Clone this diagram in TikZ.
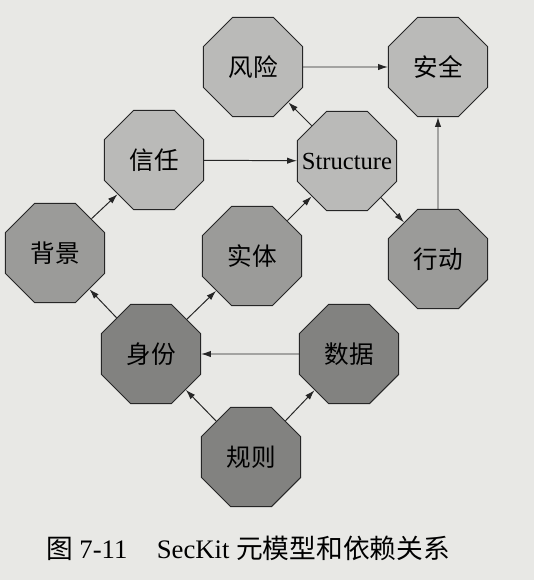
\documentclass[tikz,border=0pt]{standalone}
\usepackage{fontspec}
\setmainfont{Liberation Serif}
\newfontfamily\cjk{Noto Sans CJK SC}
\usetikzlibrary{%
  arrows.meta,%
  shapes.geometric%
}
\definecolor{paper}{RGB}{232,232,229}
\definecolor{octlight}{RGB}{186,186,184}
\definecolor{octmid}{RGB}{155,155,153}
\definecolor{octdark}{RGB}{130,130,128}
\tikzset{>={Latex[length=7pt,width=4.5pt]},%
  oct/.style={regular polygon,regular polygon sides=8,minimum size=2.68cm,
    inner sep=0pt,draw=black!85,line width=0.7pt,
    font=\fontsize{17.5}{17.5}\selectfont},
  dep/.style={->,line width=0.7pt,black!85}}

\begin{document}
\begin{tikzpicture}[x=0.025cm,y=-0.025cm]
    \fill[paper] (0,0) rectangle (534,580);
    \useasboundingbox (0,0) rectangle (534,580);
    % upper row
    \node[oct,fill=octlight] (risk) at (253,67) {\cjk 风险};
    \node[oct,fill=octlight] (safe) at (438,67) {\cjk 安全};
    \node[oct,fill=octlight] (trust) at (154,160) {\cjk 信任};
    \node[oct,fill=octlight] (struct) at (347,161) {\makebox[0pt]{Structure}};
    % middle row
    \node[oct,fill=octmid] (bg) at (55,253) {\cjk 背景};
    \node[oct,fill=octmid] (entity) at (252,256) {\cjk 实体};
    \node[oct,fill=octmid] (act) at (438,259) {\cjk 行动};
    % lower rows
    \node[oct,fill=octdark] (ident) at (151,354) {\cjk 身份};
    \node[oct,fill=octdark] (data) at (349,354) {\cjk 数据};
    \node[oct,fill=octdark] (rule) at (251,457) {\cjk 规则};
    \draw[dep] (risk) -- (safe);
    \draw[dep] (trust) -- (struct);
    \draw[dep] (struct) -- (risk);
    \draw[dep] (struct) -- (act);
    \draw[dep] (act) -- (safe);
    \draw[dep] (bg) -- (trust);
    \draw[dep] (entity) -- (struct);
    \draw[dep] (ident) -- (bg);
    \draw[dep] (ident) -- (entity);
    \draw[dep] (data) -- (ident);
    \draw[dep] (rule) -- (ident);
    \draw[dep] (rule) -- (data);
    \node[font=\fontsize{19}{19}\selectfont] (caption) at (248,548)
    {{\cjk 图} 7-11\hspace{1.1em}SecKit {\cjk 元模型和依赖关系}};
  \end{tikzpicture}
\end{document}
